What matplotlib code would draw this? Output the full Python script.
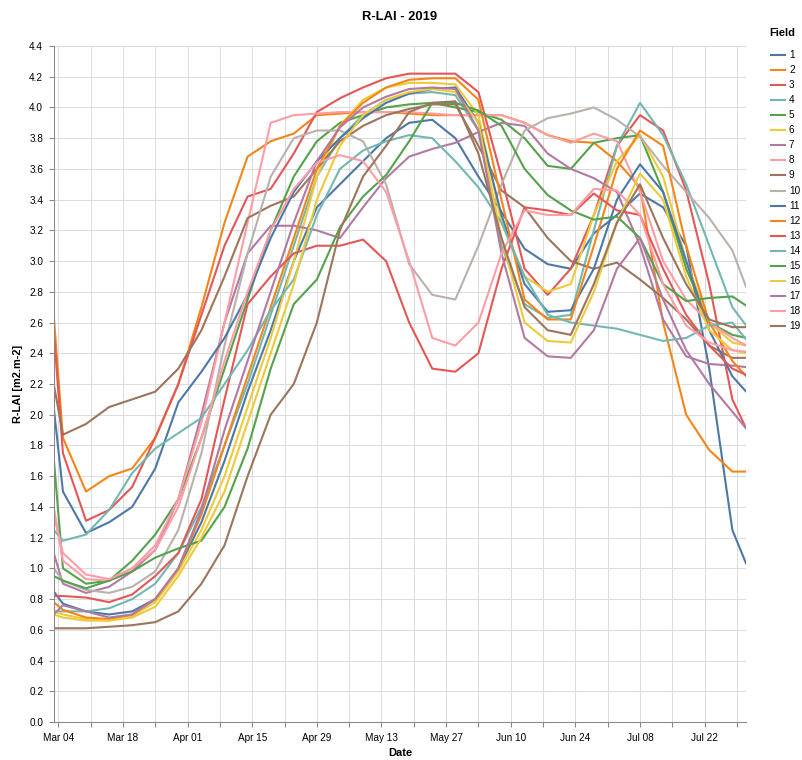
import numpy as np
import matplotlib
matplotlib.use('Agg')
import matplotlib.pyplot as plt
from matplotlib.lines import Line2D

plt.rcParams['font.family'] = ['Liberation Sans', 'DejaVu Sans']

# sample dates (R-LAI every ~5 days)
dates = np.array(['2019-03-03', '2019-03-05', '2019-03-10', '2019-03-15', '2019-03-20',
                  '2019-03-25', '2019-03-30', '2019-04-04', '2019-04-09', '2019-04-14',
                  '2019-04-19', '2019-04-24', '2019-04-29', '2019-05-04', '2019-05-09',
                  '2019-05-14', '2019-05-19', '2019-05-24', '2019-05-29', '2019-06-03',
                  '2019-06-08', '2019-06-13', '2019-06-18', '2019-06-23', '2019-06-28',
                  '2019-07-03', '2019-07-08', '2019-07-13', '2019-07-18', '2019-07-23',
                  '2019-07-28', '2019-07-31'], dtype='datetime64[D]')

f1 = [0.85, 0.77, 0.72, 0.70, 0.72, 0.80, 1.00, 1.30, 1.70, 2.15, 2.55, 3.00, 3.35, 3.50, 3.65, 3.80,
      3.90, 3.92, 3.80, 3.55, 3.32, 3.08, 2.98, 2.95, 3.18, 3.30, 3.44, 3.35, 3.10, 2.30, 1.25, 1.03]
f2 = [2.65, 1.85, 1.50, 1.60, 1.65, 1.85, 2.20, 2.70, 3.25, 3.68, 3.78, 3.83, 3.95, 3.96, 3.97, 3.97,
      3.96, 3.95, 3.95, 3.95, 3.95, 3.90, 3.82, 3.78, 3.77, 3.65, 3.48, 2.60, 2.00, 1.77, 1.63, 1.63]
f3 = [2.55, 1.75, 1.31, 1.38, 1.53, 1.85, 2.20, 2.65, 3.10, 3.42, 3.47, 3.70, 3.97, 4.06, 4.13, 4.19,
      4.22, 4.22, 4.22, 4.10, 3.55, 2.95, 2.78, 2.95, 3.30, 3.75, 3.95, 3.85, 3.46, 2.85, 2.10, 1.91]
f4 = [0.72, 0.72, 0.72, 0.74, 0.80, 0.90, 1.10, 1.40, 1.80, 2.20, 2.65, 3.10, 3.55, 3.80, 3.95, 4.05,
      4.09, 4.10, 4.08, 3.85, 3.10, 2.72, 2.63, 2.65, 3.20, 3.75, 4.03, 3.82, 3.50, 3.10, 2.70, 2.58]
f5 = [1.72, 1.00, 0.90, 0.92, 1.05, 1.22, 1.45, 1.85, 2.30, 2.75, 3.20, 3.55, 3.78, 3.90, 3.95, 4.00,
      4.02, 4.03, 4.00, 3.97, 3.92, 3.80, 3.62, 3.60, 3.77, 3.80, 3.82, 3.45, 2.95, 2.60, 2.52, 2.50]
f6 = [0.72, 0.70, 0.67, 0.66, 0.69, 0.78, 0.98, 1.25, 1.60, 2.05, 2.50, 3.00, 3.55, 3.88, 4.05, 4.13,
      4.16, 4.16, 4.15, 3.95, 3.25, 2.90, 2.80, 2.85, 3.30, 3.65, 3.82, 3.55, 3.00, 2.60, 2.47, 2.45]
f7 = [1.10, 0.90, 0.84, 0.88, 0.98, 1.12, 1.45, 2.00, 2.60, 3.05, 3.23, 3.23, 3.20, 3.15, 3.35, 3.54,
      3.68, 3.73, 3.77, 3.84, 3.90, 3.88, 3.70, 3.60, 3.54, 3.45, 3.10, 2.62, 2.38, 2.33, 2.32, 2.31]
f8 = [1.40, 1.05, 0.93, 0.92, 1.00, 1.15, 1.45, 1.95, 2.60, 3.25, 3.90, 3.95, 3.96, 3.97, 3.97, 3.97,
      3.97, 3.96, 3.95, 3.95, 3.95, 3.90, 3.82, 3.77, 3.83, 3.78, 3.45, 3.00, 2.75, 2.60, 2.50, 2.45]
f9 = [2.20, 1.87, 1.94, 2.05, 2.10, 2.15, 2.30, 2.55, 2.90, 3.28, 3.36, 3.42, 3.60, 3.78, 3.88, 3.95,
      3.99, 4.02, 4.02, 3.75, 3.46, 3.35, 3.15, 3.00, 2.95, 2.99, 2.88, 2.76, 2.62, 2.45, 2.37, 2.37]
f10 = [1.00, 0.92, 0.86, 0.84, 0.88, 0.98, 1.25, 1.75, 2.45, 3.05, 3.55, 3.80, 3.85, 3.85, 3.78, 3.50,
       2.98, 2.78, 2.75, 3.10, 3.50, 3.85, 3.93, 3.96, 4.00, 3.92, 3.81, 3.62, 3.45, 3.28, 3.07, 2.83]
f11 = [2.05, 1.50, 1.23, 1.30, 1.40, 1.65, 2.08, 2.28, 2.50, 2.78, 3.15, 3.45, 3.65, 3.80, 3.93, 4.03,
       4.09, 4.12, 4.13, 3.90, 3.30, 2.85, 2.67, 2.68, 2.95, 3.40, 3.63, 3.45, 3.00, 2.55, 2.25, 2.15]
f12 = [0.78, 0.73, 0.68, 0.67, 0.70, 0.80, 1.00, 1.35, 1.80, 2.25, 2.70, 3.15, 3.60, 3.88, 4.03, 4.13,
       4.18, 4.19, 4.19, 4.05, 3.40, 2.75, 2.62, 2.62, 3.10, 3.60, 3.85, 3.75, 3.10, 2.60, 2.35, 2.25]
f13 = [0.82, 0.82, 0.81, 0.78, 0.83, 0.95, 1.10, 1.45, 2.10, 2.72, 2.90, 3.05, 3.10, 3.10, 3.14, 3.00,
       2.60, 2.30, 2.28, 2.40, 2.95, 3.35, 3.33, 3.30, 3.44, 3.33, 3.30, 2.95, 2.65, 2.45, 2.30, 2.26]
f14 = [1.25, 1.18, 1.22, 1.38, 1.62, 1.78, 1.88, 1.98, 2.20, 2.42, 2.68, 2.88, 3.30, 3.60, 3.72, 3.78,
       3.82, 3.80, 3.65, 3.48, 3.25, 2.90, 2.65, 2.60, 2.58, 2.56, 2.52, 2.48, 2.50, 2.58, 2.60, 2.49]
f15 = [0.95, 0.92, 0.87, 0.92, 0.98, 1.07, 1.13, 1.18, 1.40, 1.78, 2.30, 2.72, 2.88, 3.22, 3.42, 3.56,
       3.78, 4.03, 4.03, 3.98, 3.88, 3.60, 3.43, 3.33, 3.27, 3.29, 3.15, 2.85, 2.74, 2.76, 2.77, 2.71]
f16 = [0.70, 0.68, 0.66, 0.66, 0.68, 0.75, 0.95, 1.20, 1.50, 1.95, 2.40, 2.85, 3.40, 3.75, 3.95, 4.05,
       4.10, 4.12, 4.10, 3.90, 3.15, 2.60, 2.48, 2.47, 2.80, 3.25, 3.57, 3.40, 2.90, 2.55, 2.42, 2.40]
f17 = [0.70, 0.76, 0.72, 0.68, 0.70, 0.80, 1.00, 1.38, 1.90, 2.35, 2.80, 3.25, 3.65, 3.87, 4.00, 4.07,
       4.12, 4.13, 4.12, 3.85, 3.05, 2.50, 2.38, 2.37, 2.55, 2.95, 3.15, 2.75, 2.42, 2.20, 2.02, 1.91]
f18 = [1.35, 1.10, 0.96, 0.93, 1.00, 1.12, 1.40, 1.85, 2.35, 2.80, 3.20, 3.47, 3.64, 3.69, 3.65, 3.45,
       3.00, 2.50, 2.45, 2.60, 3.05, 3.33, 3.30, 3.30, 3.47, 3.46, 3.30, 2.85, 2.58, 2.47, 2.42, 2.41]
f19 = [0.61, 0.61, 0.61, 0.62, 0.63, 0.65, 0.72, 0.90, 1.15, 1.60, 2.00, 2.20, 2.60, 3.20, 3.55, 3.75,
       3.97, 4.03, 4.04, 3.70, 3.15, 2.70, 2.55, 2.52, 2.85, 3.25, 3.50, 3.15, 2.85, 2.62, 2.57, 2.57]

fields = [str(i) for i in range(1, 20)]
series = [f1, f2, f3, f4, f5, f6, f7, f8, f9, f10, f11, f12, f13, f14, f15, f16, f17, f18, f19]
palette = ['#4c78a8', '#f58518', '#e45756', '#72b7b2', '#54a24b',
           '#eeca3b', '#b279a2', '#ff9da6', '#9d755d', '#bab0ac']
colors = [palette[i % 10] for i in range(len(fields))]

W, H = 803, 760
fig = plt.figure(figsize=(W / 100, H / 100), dpi=100)
ax = fig.add_axes([53.7 / W, 38 / H, 692.5 / W, 676 / H])

for vals, c in zip(series, colors):
    ax.plot(dates, vals, color=c, lw=1.5, solid_joinstyle='round', solid_capstyle='round')

ax.set_xlim(np.datetime64('2019-03-03'), np.datetime64('2019-07-31'))
ax.set_ylim(0, 4.4)

ticks = np.arange(np.datetime64('2019-03-04'), np.datetime64('2019-08-01'), 7)
ax.set_xticks(ticks)
ax.set_xticklabels([t.astype(object).strftime('%b %d') if i % 2 == 0 else ''
                    for i, t in enumerate(ticks)])
yt = np.round(np.arange(0, 4.41, 0.2), 1)
ax.set_yticks(yt)
ax.set_yticklabels([f'{v:.1f}' for v in yt])

ax.grid(True, color='#dddddd', lw=0.75)
ax.set_axisbelow(True)
for s in ['top', 'right']:
    ax.spines[s].set_visible(False)
for s in ['left', 'bottom']:
    ax.spines[s].set_color('#888888')
    ax.spines[s].set_linewidth(0.75)
ax.tick_params(length=3.6, width=0.75, color='#888888', labelsize=7.2)
ax.tick_params(axis='x', pad=4.5)
ax.tick_params(axis='y', pad=4)

fig.text(400 / W, 1 - 17 / H, 'R-LAI - 2019', ha='center', va='center',
         fontsize=9.4, fontweight='bold')
fig.text(400 / W, 1 - 753 / H, 'Date', ha='center', va='center',
         fontsize=7.9, fontweight='bold')
fig.text(18 / W, 1 - 384 / H, 'R-LAI [m2.m-2]', ha='center', va='center',
         rotation=90, fontsize=7.9, fontweight='bold')

# legend
fig.text(769 / W, 1 - 33 / H, 'Field', ha='left', va='center',
         fontsize=7.9, fontweight='bold')
for i, (name, c) in enumerate(zip(fields, colors)):
    y = 1 - (55 + 15.06 * i) / H
    fig.add_artist(Line2D([771 / W, 785 / W], [y, y], color=c, lw=1.5))
    fig.text(789 / W, y, name, ha='left', va='center', fontsize=7.2)

fig.savefig('out.png', dpi=100)
